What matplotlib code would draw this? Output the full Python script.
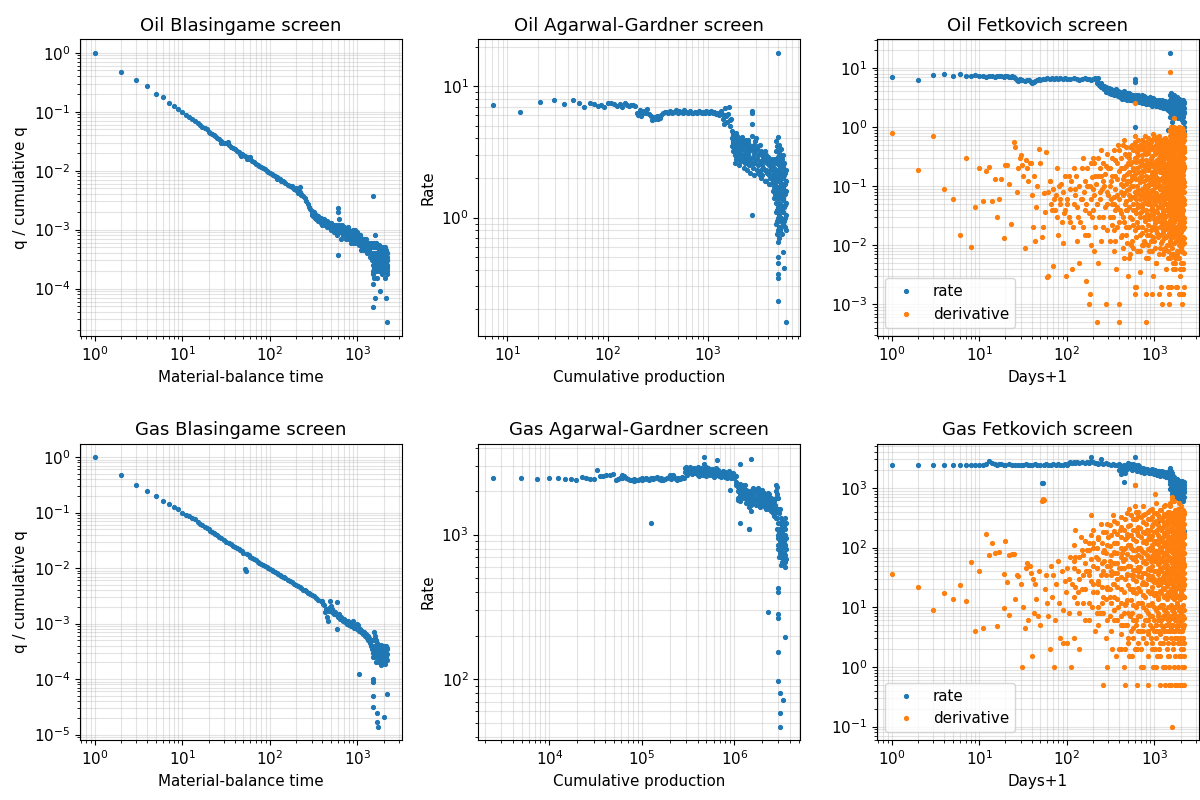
import matplotlib
matplotlib.use("Agg")
import matplotlib.pyplot as plt

# each row: (x, y1, y2, ...) -- several y values may share one x

OIL_BLASINGAME = [
    (1, 1.0), (2, 0.47), (3, 0.35), (4, 0.27), (5, 0.20), (6, 0.175), (7, 0.14),
    (8, 0.125), (9, 0.11), (10, 0.098), (11, 0.088), (12, 0.080), (13, 0.074),
    (14, 0.069), (15, 0.064), (16, 0.060), (17, 0.056), (18, 0.053), (19, 0.050),
    (20, 0.046), (21, 0.044), (22, 0.042), (23, 0.040), (24, 0.038), (25, 0.036),
    (26, 0.034), (28, 0.032, 0.030), (30, 0.030), (32, 0.029), (33, 0.031),
    (34, 0.027), (36, 0.0255), (38, 0.024), (40, 0.023), (42, 0.0215),
    (44, 0.0205), (46, 0.0195), (47, 0.018), (48, 0.019), (50, 0.0185),
    (52, 0.0178), (55, 0.017, 0.0155), (58, 0.016), (60, 0.0155, 0.017),
    (63, 0.0148), (66, 0.0141), (70, 0.0132), (73, 0.0126), (76, 0.0121),
    (80, 0.0115), (84, 0.011), (88, 0.0105), (92, 0.010), (96, 0.0096),
    (100, 0.0092), (105, 0.0088), (110, 0.0084), (115, 0.0080), (120, 0.0077, 0.0073),
    (125, 0.0074), (130, 0.0071), (135, 0.0068), (140, 0.0066), (145, 0.0064),
    (150, 0.0062), (160, 0.0058), (170, 0.0055), (180, 0.0052, 0.0055),
    (190, 0.0049), (200, 0.0047, 0.0050), (210, 0.0045, 0.0041), (220, 0.0043, 0.0052),
    (225, 0.0038), (230, 0.0040), (240, 0.0037), (250, 0.0034), (260, 0.0030),
    (270, 0.0027), (280, 0.0024), (290, 0.0022),
    (300, 0.0021, 0.0018), (305, 0.0019), (310, 0.0019), (315, 0.0017),
    (320, 0.0017, 0.0020), (330, 0.0016), (335, 0.0018), (340, 0.0017, 0.0015),
    (350, 0.0016), (355, 0.0015), (360, 0.0014, 0.0017), (370, 0.0015),
    (375, 0.0014), (380, 0.0013, 0.0016), (390, 0.0014), (395, 0.0013),
    (400, 0.0015, 0.0012), (410, 0.0013), (415, 0.0015), (420, 0.0014),
    (430, 0.0012), (435, 0.0013), (440, 0.0013), (450, 0.0011, 0.0014),
    (455, 0.0012), (460, 0.0012), (470, 0.0013), (475, 0.0011), (480, 0.0011),
    (490, 0.0012), (495, 0.0013), (500, 0.0010, 0.0013), (510, 0.0012),
    (520, 0.0011), (530, 0.0010), (540, 0.0012, 0.0009), (550, 0.0011),
    (560, 0.0010), (570, 0.0012), (580, 0.0011, 0.0008), (590, 0.0009),
    (600, 0.0010, 0.0023, 0.0020, 0.00037), (610, 0.0009), (620, 0.0012, 0.0015),
    (630, 0.0010), (640, 0.0009), (650, 0.0011), (660, 0.0007),
    (670, 0.0009, 0.0012), (680, 0.0010), (690, 0.0008), (700, 0.0008, 0.0011),
    (710, 0.0010), (720, 0.0009), (730, 0.0008), (740, 0.0007), (750, 0.0010),
    (760, 0.0009), (770, 0.0008), (780, 0.0009), (790, 0.0011),
    (800, 0.0007, 0.0010), (810, 0.0009), (820, 0.0008), (840, 0.0007),
    (850, 0.0009, 0.0006), (870, 0.0008), (880, 0.0009), (900, 0.0007, 0.0010),
    (910, 0.0008), (920, 0.0006), (940, 0.0007, 0.0010), (950, 0.0008),
    (970, 0.0007), (990, 0.0008), (1000, 0.0009, 0.0006), (1020, 0.0006),
    (1030, 0.0007), (1050, 0.00055), (1060, 0.0008), (1080, 0.0008),
    (1090, 0.0007), (1100, 0.0006, 0.00045), (1120, 0.0005), (1130, 0.0007),
    (1150, 0.0005), (1170, 0.0007), (1180, 0.0006), (1200, 0.0007, 0.00045),
    (1220, 0.0005), (1250, 0.0005), (1260, 0.0007), (1280, 0.0006),
    (1300, 0.0004), (1320, 0.0005), (1330, 0.00055), (1350, 0.00045),
    (1370, 0.0006), (1380, 0.0005), (1400, 0.00035), (1420, 0.0006),
    (1430, 0.0005), (1450, 0.0004), (1470, 0.0003),
    (1500, 0.00025, 0.0005, 0.0037, 0.00012, 0.000048, 0.00035),
    (1520, 0.00018, 0.0004), (1530, 0.0003, 0.0006, 0.0002),
    (1550, 0.0003, 0.00015, 0.0006), (1570, 0.0004, 0.00022),
    (1580, 0.00007, 0.0005), (1590, 0.0004, 0.00025),
    (1600, 0.0008, 0.0002, 0.0003), (1620, 0.00035, 0.0006),
    (1640, 0.0005, 0.0002), (1650, 0.0006, 0.00025, 0.0004),
    (1680, 0.0004, 0.0003), (1700, 0.00015, 0.0003, 0.0005),
    (1710, 0.0004, 0.00025), (1720, 0.0005, 0.00022),
    (1750, 0.0002, 0.00045, 0.0003), (1760, 0.00055, 0.00028),
    (1780, 0.0003, 0.0004), (1800, 0.00035, 0.00009, 0.00025),
    (1810, 0.0003, 0.0005), (1820, 0.00025, 0.00045),
    (1850, 0.0004, 0.0002, 0.0003), (1860, 0.00026, 0.00045),
    (1880, 0.0003, 0.00038), (1900, 0.0005, 0.00018, 0.00028),
    (1910, 0.0004, 0.0002), (1920, 0.00035, 0.00024),
    (1950, 0.00025, 0.0004, 0.0003), (1960, 0.00032, 0.00022),
    (1980, 0.0003, 0.0002), (2000, 0.0002, 0.00045, 0.0003),
    (2010, 0.00038, 0.00025), (2020, 0.00035, 0.00026),
    (2050, 0.00028, 0.00015, 0.0004), (2060, 0.00033, 0.0005),
    (2080, 0.0004, 0.00022), (2100, 0.0003, 0.0002, 0.00036),
    (2110, 0.00025, 0.00038), (2120, 0.00045, 0.00028),
    (2150, 0.00027, 0.00007, 0.00035), (2160, 0.0004, 0.0003),
    (2170, 0.000027, 0.0002), (2180, 0.00035, 0.00024), (2190, 0.0003, 0.00022),
    (2200, 0.00025, 0.0004, 0.00018, 0.0003),
]

OIL_AGARWAL = [
    (7.2, 7.2), (13.5, 6.4), (21, 7.6), (29, 7.9), (37, 7.3), (45, 7.8),
    (52, 7.4), (58, 7.0), (66, 7.4), (74, 7.3), (80, 7.1), (86, 7.2),
    (92, 7.0), (100, 7.4), (108, 7.4), (116, 7.3), (124, 7.1), (132, 7.3),
    (140, 7.0), (148, 7.4), (156, 7.2), (164, 7.1), (172, 7.2), (180, 7.2),
    (188, 7.1), (196, 6.2), (200, 6.0), (206, 6.3), (212, 6.6), (218, 5.9),
    (224, 6.2), (230, 6.5), (240, 6.2), (250, 6.7), (262, 6.1), (270, 5.9),
    (280, 5.5), (290, 5.8), (300, 5.6), (310, 5.9), (320, 5.6), (330, 5.7),
    (345, 6.0), (360, 6.2), (370, 6.4), (385, 6.4), (400, 6.3), (420, 6.5),
    (440, 6.3), (460, 6.4), (480, 6.6), (500, 6.3), (520, 6.5), (540, 6.4),
    (560, 6.2), (580, 6.6), (600, 6.4), (630, 6.3), (660, 6.5), (690, 6.3),
    (720, 6.2), (750, 6.4), (780, 6.3), (810, 6.5), (840, 6.4), (870, 6.2),
    (900, 6.4), (930, 6.3), (960, 6.5), (1000, 6.4), (1040, 6.3), (1080, 6.5),
    (1120, 6.2), (1160, 6.4), (1200, 6.1), (1250, 6.3), (1300, 6.0),
    (1350, 6.5), (1400, 6.1), (1430, 5.6), (1460, 5.2), (1480, 6.0),
    (1500, 6.8), (1530, 5.9), (1560, 5.3), (1600, 6.1), (1620, 7.0),
    (1650, 5.5), (1680, 5.0), (1700, 5.6),
    (1750, 4.6, 4.0, 3.5), (1780, 4.2, 3.7), (1800, 4.3, 3.8, 3.2),
    (1830, 3.9, 3.4), (1850, 4.1, 3.6, 2.6), (1880, 4.0, 3.0),
    (1900, 4.4, 3.9, 3.3), (1930, 3.5, 2.8), (1950, 3.7, 3.1, 4.2),
    (1980, 3.8, 3.2), (2000, 4.0, 3.4, 2.9), (2050, 3.6, 3.0, 2.5),
    (2100, 3.8, 3.2, 2.7), (2150, 3.4, 2.9, 3.9), (2200, 3.6, 3.0, 4.1),
    (2250, 3.3, 2.7, 3.8), (2300, 3.5, 2.9, 2.4), (2350, 3.7, 3.1, 2.6),
    (2400, 3.9, 3.3, 2.8), (2450, 3.5, 2.9, 2.3), (2500, 3.4, 2.7, 3.7),
    (2550, 3.0, 2.6, 3.9), (2600, 3.2, 2.5, 3.6), (2650, 3.4, 2.8, 2.2),
    (2750, 6.5, 6.3, 5.2, 1.04, 3.3, 2.6, 4.2), (2820, 3.5, 2.9, 2.4),
    (2900, 3.1, 2.6, 3.6, 2.1), (2950, 3.8, 3.2, 2.7), (3000, 3.4, 2.8, 4.0),
    (3100, 3.3, 2.8, 2.3), (3200, 3.0, 2.5, 3.5, 2.2), (3300, 3.1, 2.6, 2.1, 3.6),
    (3400, 3.2, 2.7, 2.3, 2.0), (3500, 3.0, 2.5, 2.1), (3600, 2.9, 2.4, 3.1),
    (3700, 2.7, 2.3, 3.2, 1.9), (3800, 2.8, 2.3, 1.9, 3.0), (3900, 2.6, 2.2, 2.9),
    (4000, 2.6, 2.2, 2.9), (4100, 2.5, 2.1, 2.8, 1.8), (4200, 2.7, 2.3, 2.0, 1.8),
    (4300, 2.4, 2.0, 2.7), (4400, 2.5, 2.1, 2.8), (4500, 2.3, 1.9, 2.6, 1.6),
    (4600, 2.4, 2.0, 1.7, 1.4), (4700, 2.8, 2.2, 1.8, 1.5),
    (4800, 3.8, 3.2, 2.6, 2.0, 1.6, 1.3, 1.1, 0.9),
    (4900, 3.5, 2.7, 2.1, 1.7, 1.4, 1.15, 0.95, 0.75),
    (5000, 4.1, 3.5, 2.9, 2.3, 1.9, 1.5, 1.2, 1.0, 0.8, 0.65, 0.5, 0.45, 0.37,
     0.35, 0.23, 18.0),
    (5100, 3.2, 2.6, 2.0, 1.6, 1.3, 1.05, 0.85, 0.7),
    (5200, 3.6, 3.0, 2.5, 2.1, 1.7, 1.4, 1.15, 0.95),
    (5300, 3.0, 2.4, 1.9, 1.55, 1.25, 1.0, 0.8),
    (5400, 3.3, 2.7, 2.2, 1.8, 1.5, 1.25, 1.0, 0.85),
    (5500, 2.8, 2.2, 1.8, 1.45, 1.15, 0.95, 0.75),
    (5600, 3.0, 2.4, 2.0, 1.65, 1.35, 1.1, 0.9, 0.55),
    (5700, 2.5, 2.0, 1.7, 1.4, 1.1, 0.9),
    (5800, 2.6, 2.1, 1.8, 1.5, 1.2, 0.95, 0.41),
    (5900, 2.2, 1.8, 1.5, 1.25, 1.0, 0.85),
    (6000, 2.3, 1.9, 1.6, 1.3, 1.05, 0.8, 0.16),
]

OIL_FETKOVICH_RATE = [
    (1, 7.0), (2, 6.3), (3, 7.5), (4, 7.8), (5, 7.3), (6, 7.8), (7, 7.3),
    (8, 7.2), (9, 7.6), (10, 7.2), (11, 7.3), (12, 7.1), (13, 7.2), (14, 7.3),
    (15, 7.0), (16, 7.3), (17, 7.2), (18, 7.4), (19, 7.1), (20, 7.3), (21, 7.2),
    (22, 7.0), (23, 7.1), (24, 7.3), (25, 7.0), (26, 6.6), (27, 6.2), (28, 6.0),
    (29, 6.4), (30, 6.3), (31, 6.2), (33, 6.0), (35, 6.3), (37, 6.1), (39, 5.7),
    (40, 5.5), (42, 5.8), (44, 6.0), (46, 6.2), (48, 6.4), (50, 6.3), (53, 6.5),
    (56, 6.4), (60, 6.6), (64, 6.5), (68, 6.7), (72, 6.5), (76, 6.6), (80, 6.4),
    (85, 6.6), (90, 6.5), (95, 6.7), (100, 6.5), (110, 6.4), (120, 6.6),
    (130, 6.5), (140, 6.3), (150, 6.5), (160, 6.6), (170, 6.4), (180, 6.5),
    (190, 6.3), (200, 6.4), (210, 6.6), (220, 6.2), (225, 5.6), (230, 6.8),
    (235, 5.2), (240, 5.0), (245, 5.5), (250, 4.8), (260, 4.6), (265, 4.9, 4.3),
    (270, 4.4), (280, 4.7), (285, 4.5, 3.9), (290, 4.2), (300, 4.0),
    (305, 4.6, 3.7), (310, 4.3), (320, 3.9), (325, 4.3, 3.6), (330, 4.1),
    (340, 3.8), (345, 4.2, 3.4), (350, 3.7), (360, 4.0), (365, 4.4, 3.5),
    (380, 3.6), (385, 4.1, 3.3), (400, 3.8), (410, 3.9, 3.2), (420, 3.5),
    (430, 3.7, 3.0), (440, 3.4), (450, 4.0, 3.2), (460, 3.7), (470, 3.6, 3.0),
    (480, 3.3), (490, 3.8, 2.9), (500, 3.5), (510, 3.4, 3.7), (520, 3.2),
    (530, 3.6, 2.9), (540, 3.4), (550, 3.3, 2.8), (560, 3.1), (570, 3.5, 3.0),
    (580, 3.3), (590, 3.2, 2.7), (600, 6.5, 5.8, 1.0), (610, 3.0), (620, 3.4),
    (630, 3.3, 2.7), (640, 2.9), (650, 3.5, 2.8), (660, 3.2), (670, 3.1, 2.6),
    (680, 3.0), (690, 3.3, 2.7), (700, 2.8), (710, 3.0, 2.6), (720, 3.1),
    (730, 3.4, 2.5), (740, 2.9), (750, 3.1, 2.6), (760, 2.7), (770, 2.9, 3.3),
    (780, 3.0), (790, 3.2, 2.5), (800, 2.8), (810, 2.9, 2.4), (820, 2.6),
    (830, 3.1, 2.5), (850, 2.9), (870, 3.0, 2.4), (880, 2.7), (890, 2.8, 3.2),
    (900, 2.5), (920, 2.6, 3.0), (930, 2.8), (940, 2.9, 2.3), (960, 2.6),
    (980, 2.7, 3.1), (1000, 2.4, 2.9), (1020, 2.5, 2.9), (1040, 2.6),
    (1060, 2.8, 2.3), (1080, 2.3), (1100, 2.7), (1120, 2.5, 2.9), (1150, 2.4),
    (1170, 2.7, 2.2), (1200, 2.2), (1220, 2.4, 2.8), (1250, 2.5),
    (1270, 2.6, 2.1), (1300, 2.1), (1320, 2.4, 2.7), (1350, 2.3),
    (1370, 2.2, 2.6), (1400, 2.0), (1420, 2.4, 1.9), (1450, 2.2, 0.9),
    (1500, 18.0, 1.5, 2.5), (1520, 3.5, 2.8, 2.2, 1.8), (1550, 3.8, 3.0, 2.0),
    (1580, 3.3, 2.9, 2.4, 1.7), (1600, 3.5, 2.6, 1.2), (1630, 3.0, 2.6, 2.0, 1.5),
    (1650, 3.2, 2.3), (1680, 3.4, 2.7, 2.2, 1.8), (1700, 3.0, 2.0, 1.4),
    (1730, 3.1, 2.5, 1.9, 1.6), (1750, 2.8, 2.2), (1780, 2.9, 2.4, 2.0, 1.5),
    (1800, 2.5, 1.8), (1830, 3.2, 2.6, 2.2, 1.7), (1850, 2.9, 2.1),
    (1880, 2.8, 2.3, 1.9, 1.4), (1900, 2.6, 1.6), (1930, 3.0, 2.5, 2.0, 1.6),
    (1950, 2.4, 1.9), (1980, 2.7, 2.3, 1.8, 1.4), (2000, 2.2, 2.8),
    (2030, 2.9, 2.4, 2.0, 1.5), (2050, 1.7, 2.5), (2080, 2.6, 2.2, 1.8, 1.3),
    (2100, 2.0, 1.4), (2130, 2.8, 2.3, 1.9, 1.5), (2150, 2.3, 1.2),
    (2180, 2.5, 2.1, 1.7, 1.2), (2200, 1.8, 1.0, 0.85, 2.6),
]

OIL_FETKOVICH_DERIV = [
    (1, 0.8), (2, 0.19), (3, 0.7), (4, 0.088), (5, 0.06), (6, 0.015), (7, 0.3),
    (8, 0.0095), (9, 0.044), (10, 0.2), (11, 0.055), (12, 0.18), (13, 0.21),
    (14, 0.057), (15, 0.13), (16, 0.03), (17, 0.06), (18, 0.13), (19, 0.013),
    (20, 0.23), (21, 0.23), (22, 0.11), (23, 0.023), (25, 0.55), (26, 0.45),
    (27, 0.08), (28, 0.2), (29, 0.3), (30, 0.33), (31, 0.23), (32, 0.15),
    (33, 0.009), (34, 0.28), (35, 0.2), (36, 0.12), (38, 0.25), (39, 0.25),
    (40, 0.07), (41, 0.02), (42, 0.15), (43, 0.012), (45, 0.045), (46, 0.1),
    (48, 0.43), (50, 0.25), (52, 0.014), (53, 0.02), (55, 0.075), (57, 0.037),
    (58, 0.38), (60, 0.0029), (62, 0.003, 0.08), (64, 0.12), (65, 0.12),
    (66, 0.05), (68, 0.04), (70, 0.0045, 0.09), (72, 0.06), (74, 0.04),
    (75, 0.07), (78, 0.03, 0.2), (80, 0.015), (82, 0.1), (83, 0.06),
    (85, 0.05), (87, 0.11), (88, 0.025), (90, 0.011), (92, 0.08), (93, 0.035),
    (95, 0.04), (97, 0.15), (98, 0.003), (100, 0.06), (102, 0.05),
    (105, 0.15, 0.03), (108, 0.09), (110, 0.025), (113, 0.12), (115, 0.004),
    (118, 0.02), (120, 0.05, 0.2), (123, 0.07), (125, 0.09), (128, 0.15),
    (130, 0.012), (133, 0.045), (135, 0.03), (138, 0.1), (140, 0.005),
    (143, 0.025), (145, 0.06), (148, 0.06), (150, 0.2), (153, 0.3), (155, 0.02),
    (158, 0.08), (160, 0.04, 0.12), (163, 0.015), (165, 0.0025), (168, 0.05),
    (170, 0.1), (173, 0.2), (175, 0.015), (178, 0.035), (180, 0.001),
    (183, 0.1), (185, 0.0015), (188, 0.01), (190, 0.06, 0.25), (193, 0.14),
    (195, 0.03), (198, 0.04), (200, 0.3, 0.09), (203, 0.07), (205, 0.008),
    (208, 0.25), (210, 0.15), (213, 0.02), (218, 0.11), (220, 0.0005, 0.05),
    (223, 0.05), (228, 0.15), (230, 0.005, 0.3), (233, 0.03), (238, 0.2),
    (240, 0.08), (243, 0.06), (248, 0.012), (250, 0.4, 0.15), (253, 0.09),
    (260, 0.02, 0.03, 0.12, 0.25), (270, 0.1), (275, 0.045, 0.16),
    (280, 0.001, 0.22), (290, 0.05, 0.018, 0.08, 0.35), (300, 0.2, 0.07),
    (310, 0.012), (315, 0.03, 0.1, 0.2), (320, 0.06, 0.12),
    (330, 0.3, 0.05, 0.15, 0.022), (340, 0.03), (345, 0.065, 0.018, 0.4),
    (350, 0.008, 0.05), (360, 0.15, 0.04, 0.09, 0.28, 0.012), (370, 0.004),
    (375, 0.045, 0.13, 0.02), (380, 0.07, 0.25), (390, 0.5),
    (400, 0.0005, 0.001, 0.025, 0.06, 0.18, 0.4), (410, 0.04),
    (415, 0.035, 0.11, 0.3, 0.014), (420, 0.2, 0.08), (430, 0.015),
    (440, 0.1, 0.03, 0.07, 0.13, 0.5, 0.009), (450, 0.006, 0.15),
    (455, 0.025, 0.075, 0.2, 0.6), (460, 0.35), (470, 0.05),
    (480, 0.02, 0.04, 0.015, 0.055, 0.11, 0.22, 0.45), (490, 0.12),
    (495, 0.04, 0.085, 0.16, 0.32, 0.011), (500, 0.003, 0.25),
    (520, 0.07, 0.3, 0.02, 0.045, 0.09, 0.17, 0.35, 0.006),
    (535, 0.03, 0.06, 0.12, 0.24, 0.45, 0.007), (540, 0.01), (550, 0.1),
    (560, 0.15, 0.028, 0.065, 0.13, 0.26, 0.5, 0.012),
    (575, 0.022, 0.05, 0.1, 0.19, 0.4, 0.009), (580, 0.04, 0.2),
    (600, 2.5, 0.7, 0.002, 0.0015, 0.018, 0.04, 0.08, 0.16, 0.3, 0.55),
    (615, 0.035, 0.07, 0.13, 0.26, 0.48, 0.014), (620, 0.3, 0.06, 0.002),
    (640, 0.08, 0.025, 0.05, 0.1, 0.2, 0.38, 0.008), (650, 0.4),
    (655, 0.02, 0.045, 0.085, 0.17, 0.33, 0.6), (660, 0.02),
    (680, 0.0035, 0.13, 0.015, 0.035, 0.07, 0.14, 0.27, 0.5),
    (695, 0.03, 0.06, 0.115, 0.22, 0.42, 0.008), (700, 0.15), (710, 0.25),
    (720, 0.05, 0.02, 0.045, 0.09, 0.18, 0.33, 0.6, 0.01),
    (735, 0.016, 0.038, 0.075, 0.15, 0.28, 0.52), (740, 0.01, 0.07),
    (760, 0.4, 0.012, 0.03, 0.06, 0.12, 0.23, 0.45), (770, 0.18),
    (775, 0.026, 0.052, 0.1, 0.2, 0.38, 0.7, 0.011), (780, 0.1),
    (800, 0.0005, 0.0015, 0.35, 0.018, 0.04, 0.08, 0.15, 0.28, 0.55, 0.006),
    (820, 0.03), (825, 0.015, 0.034, 0.068, 0.13, 0.25, 0.47), (830, 0.09),
    (840, 0.2), (850, 0.022, 0.05, 0.1, 0.19, 0.36, 0.65, 0.01),
    (860, 0.006, 0.22), (875, 0.028, 0.058, 0.11, 0.21, 0.4, 0.008),
    (880, 0.07), (890, 0.05), (900, 0.5, 0.015, 0.033, 0.065, 0.13, 0.25, 0.45),
    (920, 0.012, 0.3), (925, 0.018, 0.04, 0.078, 0.15, 0.29, 0.55),
    (940, 0.15), (950, 0.11, 0.02, 0.042, 0.085, 0.17, 0.32, 0.6, 0.008, 0.0015),
    (960, 0.04), (975, 0.014, 0.032, 0.065, 0.125, 0.24, 0.46, 0.75),
    (980, 0.003, 0.45),
    (1000, 0.25, 0.08, 0.012, 0.028, 0.055, 0.11, 0.21, 0.4, 0.7), (1010, 0.16),
    (1020, 0.02), (1025, 0.024, 0.05, 0.095, 0.18, 0.35, 0.62, 0.009),
    (1040, 0.6, 0.06), (1050, 0.018, 0.038, 0.075, 0.14, 0.27, 0.5, 0.005),
    (1060, 0.005), (1070, 0.28), (1075, 0.016, 0.036, 0.07, 0.135, 0.26, 0.5),
    (1080, 0.12), (1100, 0.045, 0.1, 0.014, 0.03, 0.06, 0.12, 0.23, 0.43, 0.65),
    (1120, 0.0015), (1125, 0.026, 0.055, 0.105, 0.2, 0.38, 0.7, 0.007),
    (1130, 0.5), (1140, 0.3), (1150, 0.02, 0.045, 0.09, 0.17, 0.32, 0.58, 0.009),
    (1160, 0.015, 0.19), (1175, 0.015, 0.033, 0.066, 0.13, 0.25, 0.46),
    (1180, 0.09), (1190, 0.07),
    (1200, 0.002, 0.5, 0.011, 0.025, 0.05, 0.1, 0.2, 0.37, 0.6),
    (1220, 0.03, 0.33), (1225, 0.021, 0.045, 0.088, 0.17, 0.32, 0.6, 0.012),
    (1240, 0.001), (1250, 0.2, 0.12, 0.016, 0.035, 0.07, 0.14, 0.26, 0.48, 0.007),
    (1275, 0.018, 0.038, 0.075, 0.145, 0.28, 0.52), (1280, 0.008, 0.24),
    (1300, 0.06, 0.013, 0.028, 0.058, 0.115, 0.22, 0.42, 0.62),
    (1310, 0.05), (1320, 0.35), (1325, 0.024, 0.05, 0.095, 0.18, 0.35, 0.65, 0.009),
    (1340, 0.15), (1350, 0.004, 0.019, 0.04, 0.08, 0.16, 0.3, 0.55), (1370, 0.4),
    (1375, 0.014, 0.031, 0.063, 0.125, 0.24, 0.45), (1380, 0.12),
    (1400, 0.02, 0.09, 0.01, 0.024, 0.05, 0.1, 0.19, 0.36, 0.58),
    (1420, 0.002), (1425, 0.02, 0.044, 0.085, 0.165, 0.31, 0.58, 0.008),
    (1430, 0.2), (1450, 0.07, 0.015, 0.033, 0.066, 0.13, 0.25, 0.46, 0.006),
    (1460, 0.3, 0.0015), (1475, 0.016, 0.035, 0.07, 0.14, 0.27, 0.5),
    (1480, 0.001), (1490, 0.06),
    (1500, 8.5, 0.5, 0.15, 0.04, 0.012, 0.027, 0.055, 0.11, 0.21, 0.4, 0.7, 0.9),
    (1520, 0.01, 0.12), (1525, 0.022, 0.046, 0.09, 0.17, 0.33, 0.6, 0.85, 0.006),
    (1540, 0.7), (1550, 1.0, 0.25, 0.002, 0.018, 0.038, 0.075, 0.15, 0.28, 0.52, 0.8, 0.007),
    (1560, 0.08), (1575, 0.013, 0.03, 0.06, 0.12, 0.23, 0.43, 0.7),
    (1580, 0.06), (1590, 0.3),
    (1600, 0.6, 0.015, 0.009, 0.022, 0.045, 0.09, 0.18, 0.34, 0.62, 0.95),
    (1620, 0.18, 0.05), (1625, 0.019, 0.04, 0.08, 0.155, 0.3, 0.55, 0.9, 0.007),
    (1640, 0.5), (1650, 0.004, 0.35, 0.014, 0.03, 0.062, 0.12, 0.24, 0.44, 0.75, 0.005),
    (1670, 0.14), (1675, 0.016, 0.034, 0.068, 0.13, 0.25, 0.47, 0.8),
    (1680, 0.08), (1690, 0.25),
    (1700, 1.4, 0.03, 0.011, 0.025, 0.05, 0.1, 0.2, 0.38, 0.68, 1.0),
    (1710, 0.6), (1720, 0.12), (1725, 0.02, 0.042, 0.083, 0.16, 0.31, 0.58, 0.95, 0.005),
    (1730, 0.09), (1750, 0.006, 0.45, 0.016, 0.035, 0.07, 0.14, 0.27, 0.5, 0.85, 0.004),
    (1760, 0.3, 0.002), (1775, 0.012, 0.028, 0.056, 0.11, 0.21, 0.4, 0.72),
    (1780, 0.2), (1790, 0.12),
    (1800, 0.05, 0.002, 0.008, 0.02, 0.042, 0.085, 0.17, 0.32, 0.6, 0.9),
    (1810, 0.4), (1820, 0.8), (1825, 0.018, 0.038, 0.075, 0.145, 0.28, 0.52, 0.88, 0.007),
    (1830, 0.06), (1850, 0.1, 0.015, 0.013, 0.03, 0.06, 0.12, 0.23, 0.43, 0.78, 0.006),
    (1860, 0.22), (1875, 0.015, 0.032, 0.064, 0.125, 0.24, 0.45, 0.8),
    (1880, 0.3), (1890, 0.7),
    (1900, 0.0015, 0.07, 0.01, 0.023, 0.048, 0.095, 0.19, 0.36, 0.66, 1.0),
    (1910, 0.14), (1920, 0.5), (1925, 0.02, 0.043, 0.085, 0.165, 0.32, 0.6, 0.95, 0.006),
    (1930, 0.3), (1950, 0.15, 0.025, 0.015, 0.033, 0.068, 0.13, 0.26, 0.48, 0.85, 0.003),
    (1960, 0.05), (1975, 0.012, 0.027, 0.054, 0.105, 0.2, 0.38, 0.7),
    (1980, 0.004), (1990, 0.5),
    (2000, 0.25, 0.06, 0.009, 0.02, 0.04, 0.08, 0.16, 0.3, 0.56, 0.92),
    (2010, 0.18), (2020, 0.9), (2025, 0.017, 0.036, 0.072, 0.14, 0.27, 0.5, 0.85, 0.008),
    (2030, 0.09), (2050, 0.12, 0.0015, 0.012, 0.028, 0.056, 0.11, 0.22, 0.41, 0.75, 0.005),
    (2060, 0.3, 0.001), (2075, 0.014, 0.03, 0.06, 0.12, 0.23, 0.43, 0.78),
    (2080, 0.035), (2090, 0.6),
    (2100, 0.4, 0.008, 0.01, 0.022, 0.046, 0.09, 0.18, 0.34, 0.62, 0.95),
    (2110, 0.13), (2120, 0.18), (2125, 0.019, 0.04, 0.08, 0.155, 0.3, 0.55, 0.9, 0.005),
    (2130, 0.04), (2150, 0.05, 0.0015, 0.014, 0.03, 0.062, 0.12, 0.24, 0.45, 0.8, 0.004),
    (2160, 0.25, 0.0015), (2170, 0.08), (2175, 0.013, 0.029, 0.058, 0.115, 0.22, 0.41, 0.75),
    (2180, 0.7), (2190, 0.45, 0.002),
    (2200, 0.1, 0.02, 0.0075, 0.3, 0.6, 0.011, 0.025, 0.05, 0.2, 0.38, 0.7),
]

GAS_BLASINGAME = [
    (1, 1.0), (2, 0.48), (3, 0.32), (4, 0.24), (5, 0.195), (6, 0.16), (7, 0.14),
    (8, 0.125), (9, 0.115), (10, 0.10), (11, 0.092), (12, 0.085), (13, 0.080),
    (14, 0.075), (15, 0.068), (16, 0.062), (17, 0.059), (18, 0.056), (19, 0.052),
    (20, 0.050), (21, 0.046), (22, 0.044), (23, 0.043), (24, 0.041), (25, 0.039),
    (26, 0.037), (28, 0.035), (30, 0.032), (32, 0.030), (34, 0.028), (36, 0.027),
    (38, 0.025), (40, 0.024), (42, 0.023), (44, 0.022), (46, 0.021), (48, 0.020),
    (50, 0.019), (52, 0.0095), (54, 0.009), (55, 0.018), (58, 0.017),
    (60, 0.016), (63, 0.0153), (66, 0.0146), (70, 0.0138), (73, 0.013),
    (76, 0.0125), (80, 0.012), (84, 0.0115), (88, 0.011), (92, 0.0105),
    (96, 0.0102), (100, 0.0098), (105, 0.0093), (110, 0.009), (115, 0.0085),
    (120, 0.0082), (125, 0.0079), (130, 0.0076), (135, 0.0073), (140, 0.007),
    (145, 0.0068), (150, 0.0065), (160, 0.0061), (170, 0.0058), (180, 0.0055),
    (190, 0.0052), (200, 0.005), (210, 0.0047), (220, 0.0046), (230, 0.0043),
    (240, 0.0041), (250, 0.004), (260, 0.0038), (270, 0.0036), (280, 0.0035),
    (290, 0.0034), (300, 0.0033), (320, 0.0031), (340, 0.0029), (360, 0.0027),
    (380, 0.0026), (400, 0.0025), (410, 0.0023),
    (420, 0.0022), (430, 0.0016), (440, 0.0018), (450, 0.0013), (460, 0.0011),
    (470, 0.0017), (480, 0.0019), (490, 0.0025), (500, 0.0021), (510, 0.0018),
    (520, 0.0016), (530, 0.0017), (540, 0.0015), (560, 0.0016), (580, 0.0014),
    (590, 0.0024, 0.0008), (600, 0.0013), (620, 0.0015), (640, 0.0012),
    (660, 0.0013), (680, 0.0011), (700, 0.0012), (720, 0.00105), (740, 0.0011),
    (760, 0.001), (780, 0.0011), (800, 0.00095), (820, 0.001), (850, 0.0009),
    (880, 0.00095), (900, 0.0011), (920, 0.00085), (950, 0.0009), (980, 0.001),
    (1000, 0.0008), (1020, 0.00095), (1050, 0.00075, 0.000125), (1080, 0.0008),
    (1100, 0.0007), (1130, 0.00075), (1160, 0.00065), (1190, 0.0007),
    (1220, 0.0006), (1250, 0.00065), (1280, 0.00055), (1310, 0.0006),
    (1340, 0.0005), (1370, 0.00055), (1400, 0.00045), (1420, 0.0005),
    (1450, 0.0004), (1480, 0.00035),
    (1500, 0.0003, 0.0001, 0.00009, 0.00005, 0.000032), (1520, 0.0005),
    (1530, 0.0004, 0.00025), (1540, 0.0007), (1550, 0.0004), (1570, 0.00025),
    (1600, 0.0006, 0.00035), (1610, 0.0005, 0.0003), (1620, 0.0002),
    (1650, 0.0005, 0.0003), (1680, 0.00025), (1690, 0.00045, 0.0003),
    (1700, 0.0004, 0.000025, 0.000017), (1720, 0.000014, 0.0003),
    (1750, 0.00035, 0.0002), (1770, 0.0004, 0.00026), (1780, 0.00028),
    (1800, 0.0004, 0.00022), (1830, 0.0003), (1850, 0.00035, 0.00018),
    (1870, 0.00042, 0.00024), (1880, 0.00025), (1900, 0.0003, 0.00038),
    (1930, 0.00022), (1950, 0.0003), (1960, 0.0004, 0.00025), (1980, 0.00026),
    (2000, 0.00035, 0.000021, 0.0002), (2030, 0.0003), (2040, 0.0004, 0.00021),
    (2050, 0.00024), (2080, 0.00028), (2100, 0.00033, 0.00019),
    (2120, 0.0004, 0.00024), (2130, 0.00026), (2150, 0.0003), (2170, 0.00036),
    (2180, 0.00022), (2200, 0.00028, 0.000053, 0.00035),
]

GAS_AGARWAL = [
    (2460, 2470), (4920, 2450), (7280, 2420), (9830, 2450), (12400, 2450),
    (14800, 2420), (17200, 2420), (19500, 2390), (22300, 2520), (24600, 2450),
    (27200, 2440), (30100, 2430), (32400, 2810), (35000, 2550), (38000, 2560),
    (41300, 2600), (44900, 2590), (48800, 2630), (53000, 2390),
    (55000, 2430), (58000, 2480), (61000, 2600, 2450), (64000, 2560),
    (67000, 2480), (70000, 2440), (74000, 2400), (78000, 2370),
    (82000, 2350, 2420), (86000, 2390), (90000, 2400), (95000, 2420),
    (100000, 2450, 2380), (105000, 2420), (110000, 2460), (115000, 2440),
    (120000, 2400), (126000, 2480, 1210), (132000, 2430, 2460), (138000, 2470),
    (145000, 2500), (152000, 2410), (160000, 2450, 2400), (168000, 2380),
    (176000, 2430), (185000, 2460), (195000, 2520), (200000, 2600),
    (205000, 2420), (215000, 2600), (225000, 2500), (236000, 2440),
    (240000, 2380), (248000, 2470), (260000, 2420), (270000, 2450),
    (272000, 2500), (285000, 2480),
    (290000, 2900, 2700), (300000, 2950, 2800, 2650), (310000, 2850, 2600),
    (320000, 2900, 2750), (335000, 2700, 2950), (350000, 2800, 2620),
    (365000, 2750, 2900), (380000, 2650, 2850), (400000, 2800, 2600, 2950),
    (420000, 2700, 2550), (440000, 2900, 2650), (460000, 2750, 2600),
    (472000, 3440, 3100), (480000, 2850, 2700), (500000, 2800, 2550, 2950),
    (520000, 2650, 2900), (545000, 2750, 2600), (570000, 2700, 2850),
    (600000, 2650, 2500, 2800), (630000, 2700, 2900), (650000, 3300, 2750),
    (660000, 2600, 2800), (690000, 2550, 2700), (720000, 2650, 2500),
    (760000, 2600, 2750), (800000, 2500, 2700, 2550), (840000, 2600, 2450),
    (880000, 2550, 2750), (900000, 2040, 2500), (920000, 2600, 2450),
    (960000, 2500, 2650), (1000000, 2450, 2600),
    (1050000, 2300, 2550, 2200), (1100000, 2150, 1730, 1800, 2000),
    (1140000, 3100, 1850, 1700, 2250), (1160000, 1200, 2100, 1900),
    (1200000, 2200, 2050, 1950), (1220000, 2100, 1800),
    (1250000, 2100, 1900, 2150), (1300000, 2000, 1850, 2200),
    (1330000, 1950, 1650), (1350000, 1900, 1750, 2050),
    (1400000, 1800, 1650, 2000), (1420000, 1900, 1700),
    (1450000, 1100, 1090, 1700, 1550), (1500000, 3340, 1600, 1450, 1900),
    (1550000, 1800, 1650, 2050), (1600000, 1900, 1700, 2100),
    (1650000, 1950, 1750), (1700000, 2000, 1800, 1600), (1750000, 2050, 1700),
    (1800000, 2100, 1850, 1650), (1850000, 1950, 1600),
    (1900000, 2000, 1750, 1550), (1950000, 1850, 1650),
    (2000000, 1900, 1700, 2050), (2050000, 1950, 1750),
    (2100000, 1800, 1600, 1950), (2150000, 1700, 1550),
    (2200000, 1850, 1650, 1500), (2250000, 1800, 1600),
    (2300000, 290, 1750, 1550, 1950), (2400000, 1700, 1500, 1900),
    (2450000, 1800, 1600), (2500000, 1650, 1450, 1800),
    (2550000, 1700, 1500), (2600000, 1600, 1400, 1750),
    (2650000, 1650, 1450), (2700000, 1550, 1350, 1700),
    (2750000, 1600, 1400), (2800000, 2200, 2000, 1500),
    (2850000, 1800, 1300), (2900000, 2150, 1900, 1300, 1100),
    (2950000, 1500, 1000, 850),
    (3000000, 1800, 1200, 950, 800, 430, 400, 280, 265, 155, 97),
    (3050000, 1400, 1050, 700), (3100000, 1500, 1100, 900, 750, 80, 58, 47),
    (3150000, 1200, 950, 800), (3200000, 1300, 1000, 850, 700, 620),
    (3250000, 1150, 900, 700), (3300000, 1250, 1050, 900, 760, 650),
    (3350000, 1100, 850, 650), (3400000, 1200, 980, 820, 700, 72),
    (3450000, 1150, 900, 750), (3500000, 1300, 1000, 850, 720, 600, 195),
    (3550000, 1100, 850, 650), (3600000, 1200, 950, 800, 680),
]

GAS_FETKOVICH_RATE = [
    (1, 2450), (2, 2450), (3, 2450), (4, 2450), (5, 2450), (6, 2430), (7, 2420),
    (8, 2400), (9, 2420), (10, 2450), (11, 2420), (12, 2550), (13, 2800),
    (14, 2600), (15, 2500), (16, 2450), (17, 2550), (18, 2480), (19, 2400),
    (20, 2450), (22, 2500), (24, 2420), (26, 2400), (28, 2450), (30, 2380),
    (32, 2430), (34, 2500), (36, 2450), (38, 2400), (40, 2420), (43, 2480),
    (46, 2400), (50, 2450), (52, 1200), (54, 1200), (55, 2420), (58, 2500),
    (62, 2450), (66, 2400), (70, 2480), (75, 2430), (80, 2500), (85, 2450),
    (90, 2420), (95, 2480), (100, 2450), (105, 2600), (110, 2700), (115, 2650),
    (120, 2750), (125, 2600), (130, 2700), (140, 2650), (150, 2750),
    (160, 2600), (170, 2700), (180, 2650), (190, 3300, 2800), (200, 2700),
    (210, 2600), (220, 2650), (230, 2550), (250, 3000, 2600), (260, 2500),
    (280, 2600), (300, 2550), (320, 2450), (340, 2500), (360, 2400),
    (380, 2450), (400, 2000, 2500), (410, 2400), (420, 1700), (430, 2200),
    (440, 2300, 1900), (450, 1250, 2400), (470, 1800), (480, 2300),
    (490, 2400, 2100), (500, 2600), (520, 2400), (530, 2500, 2200),
    (550, 2200), (560, 2300, 2000), (580, 2500), (600, 3300, 1100, 2300),
    (610, 2400, 2100), (620, 2100), (640, 2200, 1950), (650, 2400),
    (670, 2300, 2000), (680, 2200), (700, 1900), (710, 2100, 1850),
    (720, 2100), (740, 2200, 1950), (750, 1950), (770, 2000, 1800),
    (780, 2050), (800, 1900), (820, 2100, 1850), (830, 2000), (860, 1850),
    (880, 2000, 1800), (900, 1950), (930, 1800), (940, 2050, 1750),
    (960, 1900), (990, 1950, 1700), (1000, 1850), (1030, 2000, 1800),
    (1050, 1750), (1080, 1850, 1650), (1100, 1900, 280), (1130, 1950, 1750),
    (1150, 1700), (1180, 1850, 1600), (1200, 1800), (1230, 1900, 1700),
    (1250, 1650), (1280, 1800, 1600), (1300, 1750), (1330, 1850, 1650),
    (1350, 1600), (1380, 1750, 1550), (1400, 1500), (1430, 1800, 1600),
    (1450, 1700), (1470, 1900, 1500), (1500, 2200, 270, 1300),
    (1520, 1700, 1400, 1150, 950), (1550, 1900, 1000),
    (1580, 1800, 1500, 1200, 900), (1600, 1600, 800),
    (1630, 1600, 1300, 1000, 800), (1650, 1400, 1100),
    (1680, 1500, 1250, 1050, 850), (1700, 1300, 900),
    (1730, 1400, 1150, 950, 750), (1750, 1200, 700),
    (1780, 1300, 1100, 900, 700), (1800, 1100, 1350),
    (1830, 1400, 1150, 950, 800), (1850, 900, 1250),
    (1880, 1300, 1050, 850, 700), (1900, 1000, 750),
    (1930, 1250, 1000, 800, 650), (1950, 1150, 850),
    (1980, 1300, 1100, 900, 750), (2000, 1000, 650),
    (2030, 1250, 1050, 850, 700), (2050, 1200, 900),
    (2080, 1300, 1000, 800, 650), (2100, 800, 1100),
    (2130, 1200, 1050, 850, 600), (2150, 950, 700),
    (2180, 1250, 1100, 900, 700), (2200, 1000, 190, 850),
]

GAS_FETKOVICH_DERIV = [
    (1, 36), (2, 22), (3, 9), (4, 17.5), (5, 14), (6, 24), (7, 12.5), (8, 57),
    (9, 4), (10, 40), (11, 4.5), (12, 170), (13, 75), (14, 120), (15, 80),
    (16, 4.8), (17, 85), (19, 36, 9.8), (20, 130), (21, 27), (22, 75, 7.4),
    (24, 78), (25, 78), (26, 14), (27, 35), (28, 33), (30, 25), (31, 1),
    (32, 10), (33, 4.5), (34, 45), (35, 55), (36, 6), (38, 50), (39, 38),
    (40, 1.5), (41, 30), (42, 8), (44, 25), (45, 14), (47, 7), (48, 40),
    (50, 5), (52, 600), (54, 650), (55, 620), (56, 20), (58, 35), (60, 12),
    (62, 7), (64, 2), (66, 50), (68, 15), (70, 35), (72, 1), (74, 6), (76, 25),
    (80, 60), (82, 12), (85, 3), (88, 40), (90, 2.5), (92, 9), (95, 28),
    (98, 18), (100, 2.5, 45), (105, 8, 30), (110, 70), (112, 1), (115, 25),
    (120, 3, 60, 15, 45, 110), (125, 200, 22, 70), (130, 12), (135, 40, 18),
    (140, 2, 8, 30, 70), (145, 150), (150, 20, 90), (155, 12, 35, 75),
    (160, 6, 20, 55, 130), (165, 40), (170, 90),
    (180, 35, 120, 12, 40, 90, 6), (190, 350, 28, 65, 160), (195, 10),
    (200, 120, 25, 18, 50, 100, 200), (210, 4), (215, 70), (220, 45),
    (225, 18, 45, 100, 8), (230, 25, 150, 10, 28, 65, 140, 5), (240, 8),
    (250, 250, 35), (255, 22, 55, 120, 12), (260, 0.5, 15, 40, 85, 180, 8),
    (270, 60, 90), (280, 3), (285, 14, 35, 80, 180),
    (290, 1, 20, 6, 22, 50, 110, 250), (300, 150), (310, 15, 60),
    (315, 20, 50, 105, 240, 7), (320, 40, 12, 35, 75, 160, 4), (330, 2),
    (340, 350, 25), (345, 15, 38, 85, 190, 9), (350, 6, 9, 25, 55, 120, 280),
    (360, 80), (370, 1.5, 120), (375, 22, 55, 120, 260, 6),
    (380, 30, 14, 38, 80, 170, 6), (390, 10), (400, 2, 45), (410, 200),
    (415, 12, 32, 70, 150, 330, 5), (420, 20, 7, 45, 100, 220, 3.5, 2),
    (430, 5, 80), (440, 60), (450, 1), (455, 18, 45, 95, 200, 8),
    (460, 0.5, 30, 11, 65, 140, 300, 5), (470, 100, 2), (480, 12),
    (490, 35, 150), (495, 13, 36, 78, 170, 380, 5),
    (500, 3, 8, 24, 50, 110, 230, 2.5), (510, 1.5), (520, 450, 50),
    (535, 20, 50, 110, 240, 7), (540, 70, 13, 35, 160, 350, 4), (550, 100),
    (560, 8, 1.5), (575, 11, 30, 65, 140, 300, 4.5),
    (580, 20, 35, 6, 18, 42, 90, 200, 3), (600, 1100, 500, 2), (610, 70),
    (615, 17, 42, 90, 195, 400, 6), (620, 300, 10, 28, 60, 130, 5),
    (640, 0.5, 180, 2), (655, 12, 34, 75, 160, 340, 4),
    (660, 40, 7, 21, 48, 100, 220, 2.5, 400), (670, 40), (680, 4),
    (695, 19, 47, 100, 215, 7), (700, 150, 90, 12, 32, 70, 320, 2),
    (710, 1), (720, 12), (730, 25), (740, 1),
    (745, 10, 26, 58, 125, 270, 500, 4), (750, 5, 16, 38, 85, 180, 350, 3),
    (760, 60, 130), (780, 25), (790, 55), (795, 15, 38, 82, 175, 360, 6),
    (800, 2.5, 9, 25, 55, 120, 250, 6), (820, 200, 75), (840, 8),
    (845, 11, 30, 66, 140, 300, 4), (850, 35, 6, 19, 44, 95, 400, 3.5),
    (860, 0.5, 1.5), (880, 45, 160), (895, 17, 42, 92, 195, 420, 7),
    (900, 100, 11, 30, 65, 140, 300, 5), (910, 60), (920, 3), (940, 18, 100),
    (945, 12, 33, 72, 155, 330, 4.5), (950, 7, 22, 50, 110, 230, 450, 2.5, 2),
    (960, 1), (970, 28), (980, 250), (995, 16, 40, 86, 185, 380, 6),
    (1000, 30, 70, 10, 27, 60, 130, 270, 4), (1010, 2), (1020, 800),
    (1030, 120), (1040, 5), (1045, 9, 27, 60, 130, 280, 550, 4),
    (1050, 5, 17, 40, 88, 190, 380, 3), (1060, 70, 40, 1), (1080, 1.5),
    (1090, 200), (1095, 14, 36, 78, 165, 350, 7),
    (1100, 15, 8, 24, 53, 115, 240, 6), (1120, 150, 55), (1140, 2),
    (1145, 10, 30, 68, 145, 310, 4), (1150, 90, 6, 19, 45, 98, 210, 420, 3.5),
    (1160, 40, 2.5, 1.5), (1180, 0.5, 25), (1195, 17, 44, 95, 200, 430, 6),
    (1200, 300, 11, 29, 63, 135, 290, 5), (1210, 130), (1220, 10),
    (1240, 60, 45), (1245, 11, 32, 70, 150, 320, 4.5),
    (1250, 7, 21, 48, 105, 220, 2.5), (1260, 1), (1270, 80), (1280, 20),
    (1295, 15, 38, 82, 175, 370, 6.5), (1300, 120, 30, 9, 26, 57, 260, 500, 4),
    (1320, 3), (1330, 170, 1), (1340, 0.5), (1345, 9, 26, 58, 125, 270, 520, 4),
    (1350, 5, 16, 38, 85, 180, 350, 3), (1360, 45, 60), (1380, 8),
    (1390, 100, 2), (1395, 14, 35, 76, 165, 350, 7),
    (1400, 200, 8, 23, 52, 112, 240, 5), (1420, 1.5, 40), (1440, 25),
    (1445, 10, 29, 64, 140, 300, 4), (1450, 250, 6, 18, 42, 92, 400, 2.5),
    (1460, 0.5), (1480, 90, 70, 1.5, 1), (1495, 16, 42, 90, 190, 400, 6),
    (1500, 500, 5, 10, 28, 62, 133, 280, 550, 4), (1510, 120), (1520, 35),
    (1540, 0.5, 30), (1545, 11, 31, 68, 148, 320, 4.5),
    (1550, 7, 20, 46, 100, 215, 3), (1560, 150), (1570, 60), (1580, 15),
    (1595, 15, 39, 84, 180, 380, 650, 6.5),
    (1600, 0.1, 700, 200, 9, 25, 56, 120, 255, 5), (1620, 2), (1630, 90, 2.5),
    (1640, 60), (1645, 9, 27, 60, 130, 280, 4), (1650, 5, 17, 39, 86, 185, 370, 2.5),
    (1660, 300, 40), (1680, 8), (1690, 130), (1695, 14, 36, 78, 168, 360, 7),
    (1700, 1, 40, 8, 23, 51, 110, 235, 600, 4), (1720, 100, 55), (1730, 1.5),
    (1740, 0.5), (1745, 10, 30, 66, 142, 305, 4),
    (1750, 300, 6, 19, 43, 94, 200, 420, 3), (1760, 20), (1780, 250, 80),
    (1795, 16, 41, 88, 190, 400, 6), (1800, 3, 70, 10, 27, 59, 128, 270, 5),
    (1810, 35), (1820, 12), (1840, 0.5, 150), (1845, 11, 32, 70, 150, 320, 4.5),
    (1850, 7, 21, 47, 103, 220, 450, 2.5), (1860, 150, 1), (1870, 60),
    (1880, 30), (1895, 15, 38, 82, 175, 370, 6.5),
    (1900, 1.5, 400, 100, 9, 24, 54, 117, 250, 4), (1920, 50), (1930, 25),
    (1940, 6), (1945, 9, 27, 60, 128, 275, 550, 4),
    (1950, 5, 16, 37, 82, 175, 360, 3), (1960, 0.5, 180), (1980, 90),
    (1990, 70), (1995, 14, 35, 76, 162, 345, 7),
    (2000, 20, 2, 8, 22, 50, 108, 230, 500, 5), (2010, 1.5), (2020, 200, 45),
    (2040, 40), (2045, 10, 30, 65, 140, 300, 4),
    (2050, 120, 6, 18, 41, 90, 195, 400, 2.5), (2060, 1), (2080, 120, 30),
    (2095, 16, 40, 86, 185, 390, 6), (2100, 10, 0.5, 26, 58, 125, 265, 4),
    (2110, 200), (2120, 60), (2130, 2), (2140, 300, 80),
    (2145, 11, 31, 68, 146, 315, 4.5), (2150, 7, 20, 45, 98, 210, 430, 3),
    (2160, 3), (2170, 50), (2180, 25, 1.5, 2.5), (2190, 400),
    (2195, 15, 37, 80, 172, 360, 6.5),
    (2200, 0.5, 1, 80, 15, 150, 30, 9, 24, 53, 115, 245, 5),
]


def unpack(rows):
    """flatten (x, y1, y2, ...) rows into two lists"""
    xs, ys = [], []
    for row in rows:
        for y in row[1:]:
            xs.append(row[0])
            ys.append(y)
    return xs, ys


def screen(ax, rows, title, xlabel, ylabel=None, deriv_rows=None):
    """one log-log diagnostic plot"""
    x, y = unpack(rows)
    ax.plot(x, y, ".", color="tab:blue", ms=5.5, label="rate")
    if deriv_rows is not None:
        dx, dy = unpack(deriv_rows)
        ax.plot(dx, dy, ".", color="tab:orange", ms=5.5, label="derivative")
        ax.legend(loc="lower left")
    ax.set_xscale("log")
    ax.set_yscale("log")
    ax.grid(True, which="both", alpha=0.35)
    ax.set_title(title)
    ax.set_xlabel(xlabel)
    if ylabel:
        ax.set_ylabel(ylabel)


def main():
    plt.rcParams["font.size"] = 10.9
    plt.rcParams["axes.titlesize"] = 13
    fig, axes = plt.subplots(2, 3, figsize=(12, 8))
    fig.subplots_adjust(left=0.0667, right=0.999, bottom=0.075, top=0.951,
                        wspace=0.238, hspace=0.364)

    screen(axes[0, 0], OIL_BLASINGAME, "Oil Blasingame screen",
           "Material-balance time", "q / cumulative q")
    screen(axes[0, 1], OIL_AGARWAL, "Oil Agarwal-Gardner screen",
           "Cumulative production", "Rate")
    screen(axes[0, 2], OIL_FETKOVICH_RATE, "Oil Fetkovich screen", "Days+1",
           deriv_rows=OIL_FETKOVICH_DERIV)
    screen(axes[1, 0], GAS_BLASINGAME, "Gas Blasingame screen",
           "Material-balance time", "q / cumulative q")
    screen(axes[1, 1], GAS_AGARWAL, "Gas Agarwal-Gardner screen",
           "Cumulative production", "Rate")
    screen(axes[1, 2], GAS_FETKOVICH_RATE, "Gas Fetkovich screen", "Days+1",
           deriv_rows=GAS_FETKOVICH_DERIV)

    fig.savefig("out.png", dpi=100)
    plt.close(fig)


if __name__ == "__main__":
    main()
